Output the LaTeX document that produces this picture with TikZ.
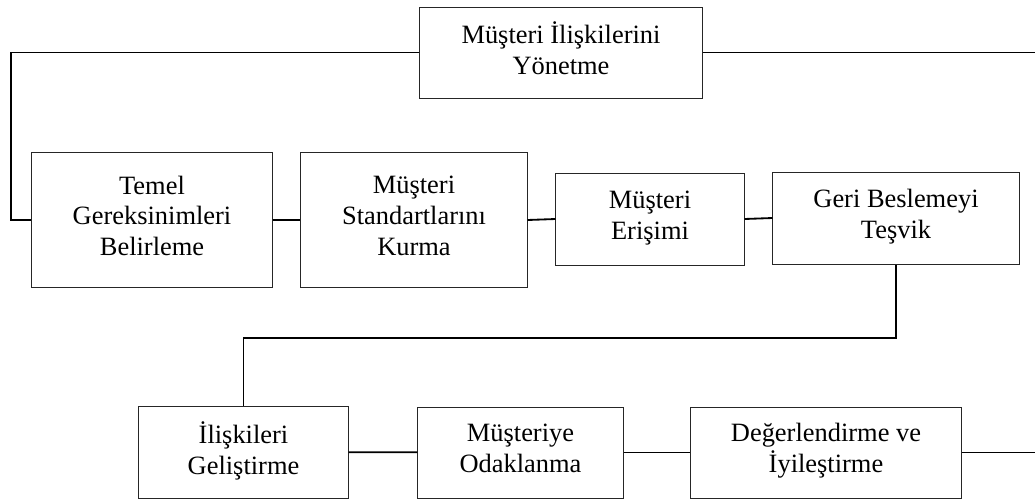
\documentclass[tikz,border=0pt]{standalone}
\usepackage{fontspec}
\setmainfont{Liberation Serif}
\usepackage{tikz}
\usetikzlibrary{positioning}
\tikzset{kutu/.style={draw=black!85,line width=0.7pt,align=center,inner sep=2pt,text depth=6pt,font=\fontsize{18.8}{22}\selectfont},
         hat/.style={line width=1.3pt}}

\begin{document}
\begin{tikzpicture}[x=0.025cm,y=-0.025cm]
    \useasboundingbox (0,0) rectangle (1035,502);
    \node[kutu,minimum width=7.05cm,minimum height=2.275cm] (yonetme) at (561,52.5) {Müşteri İlişkilerini\\Yönetme};
    \node[kutu,minimum width=6cm,minimum height=3.35cm] (temel) at (152,220) {Temel\\Gereksinimleri\\Belirleme};
    \node[kutu,minimum width=5.65cm,minimum height=3.35cm] (standart) at (414,220) {Müşteri\\Standartlarını\\Kurma};
    \node[kutu,minimum width=4.7cm,minimum height=2.3cm] (erisim) at (650,219) {Müşteri\\Erişimi};
    \node[kutu,minimum width=6.15cm,minimum height=2.3cm] (geri) at (896,218) {Geri Beslemeyi\\Teşvik};
    \node[kutu,minimum width=5.225cm,minimum height=2.3cm] (iliski) at (243.5,452) {İlişkileri\\Geliştirme};
    \node[kutu,minimum width=5.125cm,minimum height=2.275cm] (odak) at (520.5,452.5) {Müşteriye\\Odaklanma};
    \node[kutu,minimum width=6.75cm,minimum height=2.275cm] (iyi) at (826,452.5) {Değerlendirme ve\\İyileştirme};

    \coordinate (solkose) at (11,220);
    \coordinate (sagust) at (1035,52.5);
    \coordinate (ortakose) at (243.5,338);
    \coordinate (sagalt) at (1035,452.5);

    \draw [hat] (yonetme.west) -| (solkose) -- (temel.west);
    \draw [hat] (yonetme.east) -- (sagust);
    \draw [hat] (temel) -- (standart);
    \draw [hat] (standart.east) -- (erisim.west);
    \draw [hat] (erisim.east) -- (geri.west);
    \draw [hat] (geri.south) |- (ortakose) -- (iliski.north);
    \draw [hat] (iliski) -- (odak);
    \draw [hat] (odak.east) -- (iyi.west);
    \draw [hat] (iyi.east) -- (sagalt);
\end{tikzpicture}
\end{document}
